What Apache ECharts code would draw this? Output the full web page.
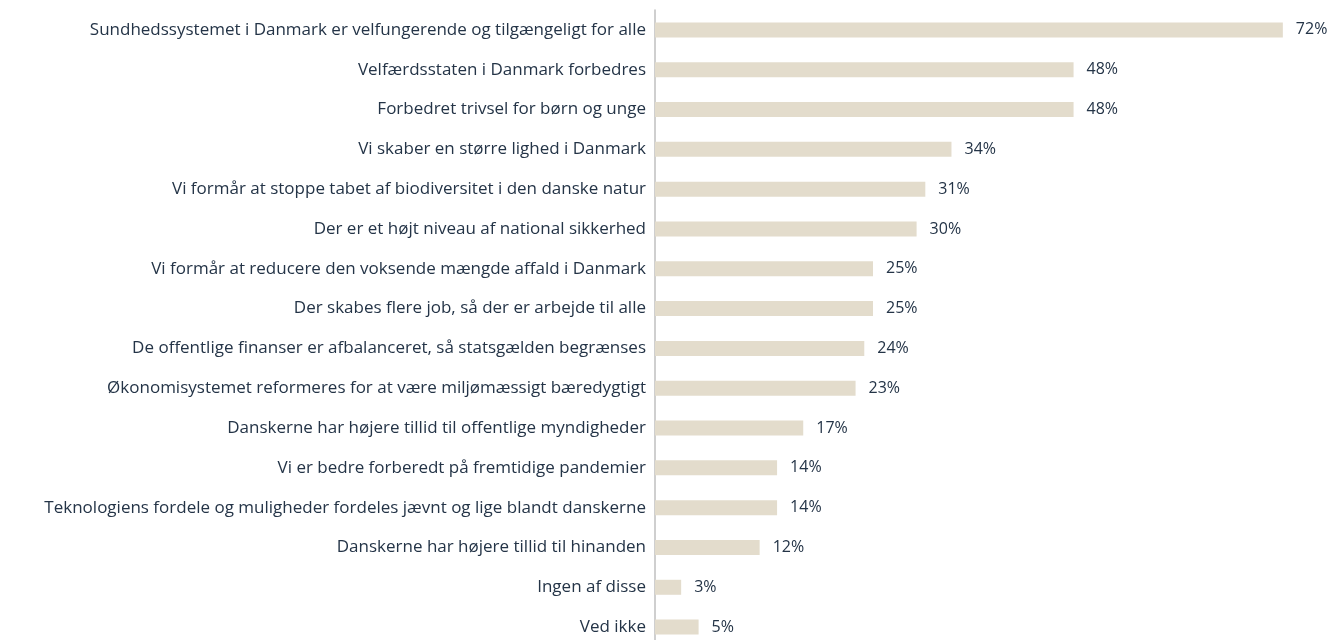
<!DOCTYPE html>
<html>
<head>
<meta charset="utf-8">
<script src="https://cdn.jsdelivr.net/npm/echarts@6/dist/echarts.min.js"></script>
<style>
  html, body { margin: 0; padding: 0; background: #fff; }
  #chart { width: 1334px; height: 640px; }
</style>
</head>
<body>
<div id="chart"></div>
<script>
const categories = [
  'Sundhedssystemet i Danmark er velfungerende og tilgængeligt for alle',
  'Velfærdsstaten i Danmark forbedres',
  'Forbedret trivsel for børn og unge',
  'Vi skaber en større lighed i Danmark',
  'Vi formår at stoppe tabet af biodiversitet i den danske natur',
  'Der er et højt niveau af national sikkerhed',
  'Vi formår at reducere den voksende mængde affald i Danmark',
  'Der skabes flere job, så der er arbejde til alle',
  'De offentlige finanser er afbalanceret, så statsgælden begrænses',
  'Økonomisystemet reformeres for at være miljømæssigt bæredygtigt',
  'Danskerne har højere tillid til offentlige myndigheder',
  'Vi er bedre forberedt på fremtidige pandemier',
  'Teknologiens fordele og muligheder fordeles jævnt og lige blandt danskerne',
  'Danskerne har højere tillid til hinanden',
  'Ingen af disse',
  'Ved ikke'
];
const values = [72, 48, 48, 34, 31, 30, 25, 25, 24, 23, 17, 14, 14, 12, 3, 5];

const textColor = '#243447';
const chart = echarts.init(document.getElementById('chart'));
chart.setOption({
  animation: false,
  grid: { left: 655, right: 25, top: 10, bottom: -7, outerBoundsMode: 'none', containLabel: false },
  xAxis: {
    type: 'value', min: 0, max: 75, show: false
  },
  yAxis: {
    type: 'category',
    data: categories,
    inverse: true,
    axisTick: { show: false },
    axisLine: { show: true, lineStyle: { color: '#bfbfbf', width: 1.5 } },
    axisLabel: { color: textColor, fontFamily: 'Open Sans', fontSize: 17, margin: 9 }
  },
  series: [{
    type: 'bar',
    data: values,
    barWidth: 15,
    itemStyle: { color: '#e3dccc' },
    label: {
      show: true, position: 'right', distance: 13,
      formatter: '{c}%', color: textColor, fontFamily: 'Open Sans', fontSize: 16
    }
  }]
});
</script>
</body>
</html>
